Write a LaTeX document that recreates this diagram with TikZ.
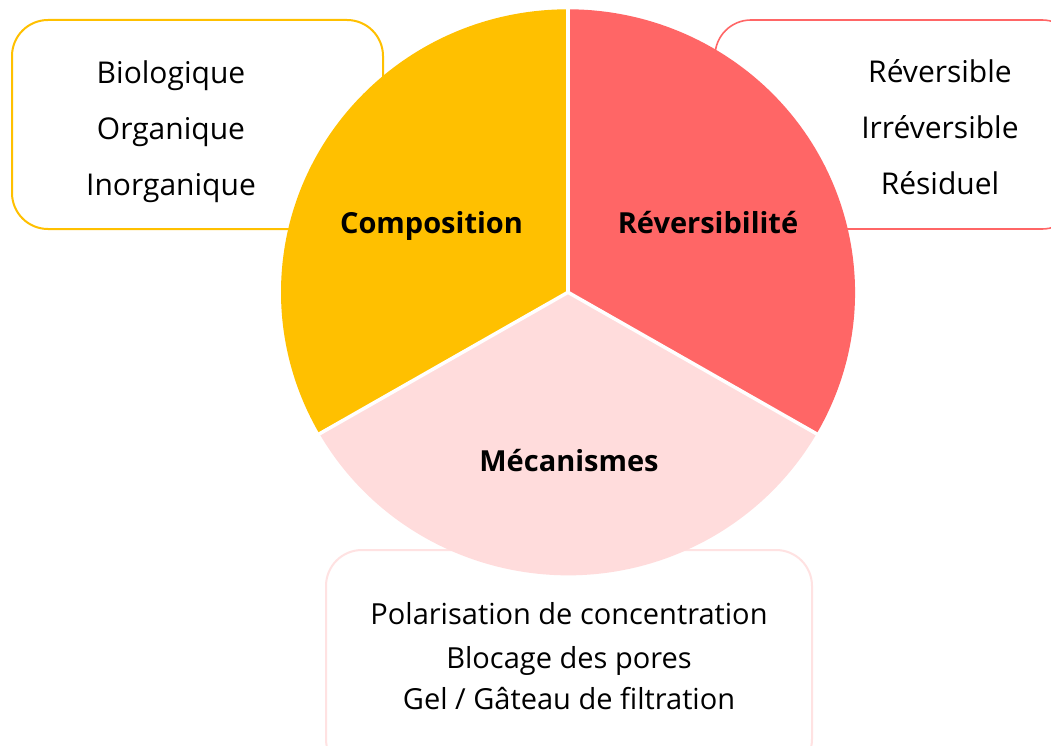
\documentclass[tikz,border=0pt]{standalone}
\usepackage{fontspec}
\setmainfont{Open Sans}
\definecolor{cyel}{HTML}{FFC000}
\definecolor{cred}{HTML}{FF6666}
\definecolor{cpink}{HTML}{FFDCDC}
\definecolor{cpinkline}{HTML}{FFE2E2}
\begin{document}
\begin{tikzpicture}[x=1pt,y=-1pt,
  boxtxt/.style={anchor=base, inner sep=0pt, font=\fontsize{30}{36}\selectfont},
  boxtxtb/.style={anchor=base, inner sep=0pt, font=\fontsize{29}{35}\selectfont},
  seclabel/.style={anchor=base, inner sep=0pt, font=\fontsize{29}{35}\selectfont\bfseries},
  sep/.style={white, line width=3.5pt}]
\useasboundingbox (0,0) rectangle (1051,746);
\clip (0,0) rectangle (1051,746);
\fill[white] (0,0) rectangle (1051,746);
% boxes
\draw[cyel, line width=2pt, rounded corners=36pt] (12,20) rectangle (383,229);
\draw[cred, line width=1.6pt, rounded corners=36pt] (715,20) rectangle (1078,229);
\draw[cpinkline, line width=2pt, rounded corners=36pt] (326,550) rectangle (812,775);
% pie
\coordinate (c) at (568,292.3);
\fill[cyel] (c) -- ++(0pt,283pt) arc[start angle=90, end angle=210, x radius=287pt, y radius=283pt] -- cycle;
\fill[cred] (c) -- ++({287pt*cos(-30)},{283pt*sin(-30)}) arc[start angle=-30, end angle=90, x radius=287pt, y radius=283pt] -- cycle;
\fill[cpink] (c) -- ++({287pt*cos(210)},{283pt*sin(210)}) arc[start angle=210, end angle=330, x radius=287pt, y radius=283pt] -- cycle;
\draw[sep] (c) -- ++(0pt,284pt) coordinate (pt);
\draw[sep] (c) -- ++({288pt*cos(210)},{284pt*sin(210)}) coordinate (pl);
\draw[sep] (c) -- ++({288pt*cos(330)},{284pt*sin(330)}) coordinate (pr);
% sector labels
\node[seclabel] (comp) at (431.5,233) {Composition};
\node[seclabel] (rev) at (708,233) {Réversibilité};
\node[seclabel] (meca) at (569,471) {Mécanismes};
% left box text
\node[boxtxt] (l1) at (171,84) {Biologique};
\node[boxtxt] (l2) at (171,139.5) {Organique};
\node[boxtxt] (l3) at (171,195) {Inorganique};
% right box text
\node[boxtxt] (r1) at (940,83) {Réversible};
\node[boxtxt] (r2) at (940,139) {Irréversible};
\node[boxtxt] (r3) at (940,194) {Résiduel};
% bottom box text
\node[boxtxtb] (b1) at (569,624) {Polarisation de concentration};
\node[boxtxtb] (b2) at (569,668) {Blocage des pores};
\node[boxtxtb] (b3) at (569,709) {Gel / Gâteau de filtration};
\end{tikzpicture}
\end{document}
